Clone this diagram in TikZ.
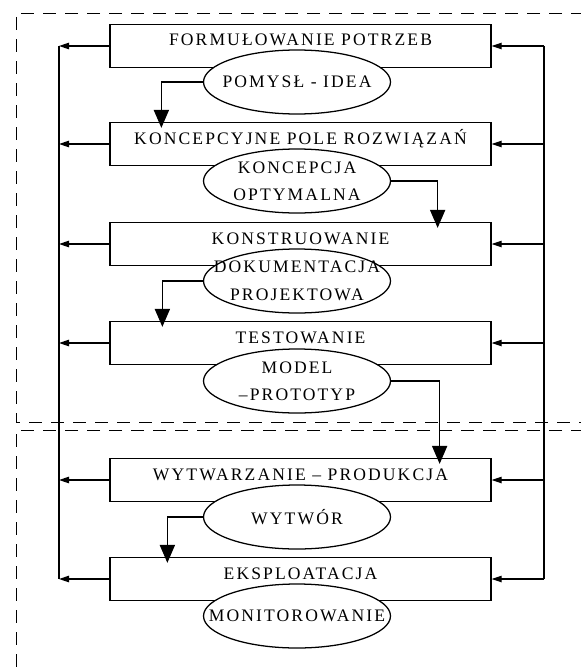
\documentclass[tikz,border=0pt]{standalone}
\usepackage{fontspec}
\setmainfont{Liberation Serif}[LetterSpace=12]
\usetikzlibrary{arrows.meta,shapes.geometric}

\begin{document}
\begin{tikzpicture}[>={Triangle[length=0.25cm,width=0.16cm]},line width=0.9pt,
 b/.style={draw,minimum width=9.525cm,minimum height=1.075cm,inner sep=0pt,
  text height=9pt,text depth=9pt,font=\fontsize{12.5}{19.5}\selectfont},
 e/.style={draw,ellipse,fill=white,minimum width=4.675cm,minimum height=1.6cm,
  inner xsep=-1cm,inner ysep=0pt,align=center,font=\fontsize{12.5}{19.5}\selectfont},
 dn/.style={-{Triangle[length=0.45cm,width=0.38cm]},shorten >=-0.15cm},
 fr/.style={dash pattern=on 0.33cm off 0.22cm,line width=0.7pt}]
\useasboundingbox (0,0) rectangle (14.525,-16.775);
% design stage / production stage
\draw[fr] (14.6,-0.325) -- (0.4,-0.325) -- (0.4,-10.55) -- (14.6,-10.55);
\draw[fr] (14.6,-10.75) -- (0.4,-10.75) -- (0.4,-16.9);
\node[b] (b1) at (7.5125,-1.15) {FORMUŁOWANIE POTRZEB};
\node[b] (b2) at (7.5125,-3.6) {KONCEPCYJNE POLE ROZWIĄZAŃ};
\node[b] (b3) at (7.5125,-6.1) {KONSTRUOWANIE};
\node[b] (b4) at (7.5125,-8.575) {TESTOWANIE};
\node[b] (b5) at (7.5125,-12.0) {WYTWARZANIE – PRODUKCJA};
\node[b] (b6) at (7.5125,-14.475) {EKSPLOATACJA};
\node[e] (e1) at (7.425,-2.05) {POMYSŁ - IDEA};
\node[e] (e2) at (7.425,-4.525) {KONCEPCJA\\OPTYMALNA};
\node[e] (e3) at (7.425,-7.025) {DOKUMENTACJA\\PROJEKTOWA};
\node[e] (e4) at (7.425,-9.525) {MODEL\\–PROTOTYP};
\node[e] (e5) at (7.425,-12.925) {WYTWÓR};
\node[e] (e6) at (7.425,-15.4) {MONITOROWANIE};
% feedback buses
\coordinate (lt) at (1.475,-1.15);
\coordinate (lb) at (1.475,-14.475);
\coordinate (rt) at (13.6,-1.15);
\coordinate (rb) at (13.6,-14.475);
\draw (lt) -- (lb);
\draw (rt) -- (rb);
\foreach \n in {1,...,6} {
 \draw[->] (b\n.west) -- (b\n.west -| lt);
 \draw[->] (b\n.east -| rt) -- (b\n.east);
}
\draw[dn] (e1.west) -| ([xshift=1.3cm]b2.north west);
\draw[dn] (e2.east) -| ([xshift=-1.35cm]b3.north east);
\draw[dn] (e3.west) -| ([xshift=1.325cm]b4.north west);
\draw[dn] (e4.east) -| ([xshift=-1.3cm]b5.north east);
\draw[dn] (e5.west) -| ([xshift=1.45cm]b6.north west);
\end{tikzpicture}
\end{document}
